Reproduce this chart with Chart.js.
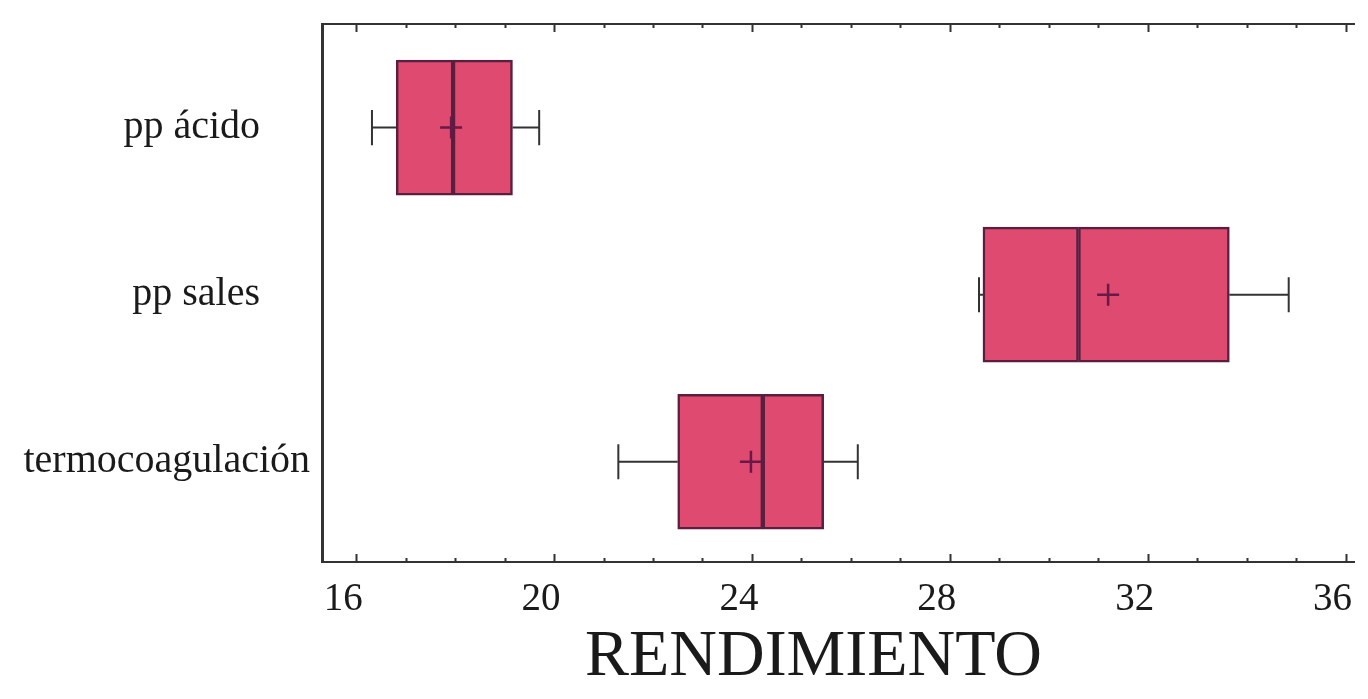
<!DOCTYPE html>
<html>
<head>
<meta charset="utf-8">
<script src="https://cdn.jsdelivr.net/npm/chart.js@4/dist/chart.umd.min.js"></script>
<style>
    html, body { margin: 0; padding: 0; background: #fff; overflow: hidden; }
    #wrap { width: 1368px; height: 699px; }
</style>
</head>
<body>
<div id="wrap"><canvas id="boxChart" width="1368" height="699"></canvas></div>
<script>
// Box plot data (RENDIMIENTO)
const categories = ['pp ácido', 'pp sales', 'termocoagulación'];
const whiskerMin = [16.32, 28.59, 21.30];
const q1Values = [16.81, 28.67, 22.50];
const medianValues = [17.96, 30.60, 24.22];
const q3Values = [19.16, 33.65, 25.45];
const whiskerMax = [19.70, 34.85, 26.14];
const meanValues = [17.92, 31.20, 23.98];
const xTickLabels = [16, 20, 24, 28, 32, 36];

const X_MIN = 15.31;
const X_MAX = 36.18;
const CAP_HALF = 0.105;   // whisker cap half height, in category units
const BOX_FILL = '#de4a70';
const BOX_EDGE = '#5a1e3e';
const INK = '#333333';

function buildWhiskers() {
    const pts = [];
    categories.forEach((c, i) => {
        pts.push({ x: whiskerMin[i], y: i }, { x: q1Values[i], y: i }, { x: null, y: null });
        pts.push({ x: q3Values[i], y: i }, { x: whiskerMax[i], y: i }, { x: null, y: null });
        pts.push({ x: whiskerMin[i], y: i - CAP_HALF }, { x: whiskerMin[i], y: i + CAP_HALF }, { x: null, y: null });
        pts.push({ x: whiskerMax[i], y: i - CAP_HALF }, { x: whiskerMax[i], y: i + CAP_HALF }, { x: null, y: null });
    });
    return pts;
}

// ticks point inward on bottom and top axes
const innerTicks = {
    id: 'innerTicks',
    afterDraw(chart) {
        const ctx = chart.ctx;
        const xs = chart.scales.x;
        const area = chart.chartArea;
        ctx.save();
        ctx.strokeStyle = INK;
        ctx.lineWidth = 2;
        xs.ticks.forEach(t => {
            if (!Number.isInteger(t.value)) return;
            const px = Math.round(xs.getPixelForValue(t.value)) + 0.5;
            const len = t.value % 4 === 0 ? 8 : 4;
            ctx.beginPath();
            ctx.moveTo(px, area.bottom);
            ctx.lineTo(px, area.bottom - len);
            ctx.moveTo(px, area.top);
            ctx.lineTo(px, area.top + len);
            ctx.stroke();
        });
        ctx.restore();
    }
};

function noPad(scale) {
    scale.paddingTop = 0;
    scale.paddingBottom = 0;
    scale.paddingLeft = 0;
    scale.paddingRight = 0;
}

document.addEventListener('DOMContentLoaded', function() {
    const ctx = document.getElementById('boxChart').getContext('2d');

    new Chart(ctx, {
        type: 'bar',
        data: {
            datasets: [
                {
                    type: 'scatter',
                    data: meanValues.map((m, i) => ({ x: m, y: i })),
                    pointStyle: 'cross',
                    pointRadius: 11,
                    pointBorderWidth: 2.5,
                    borderColor: '#6a1846',
                    order: 0
                },
                {
                    indexAxis: 'y',
                    data: categories.map((c, i) => ({ y: i, x: [q1Values[i], medianValues[i]] })),
                    backgroundColor: BOX_FILL,
                    borderColor: BOX_EDGE,
                    borderWidth: 2.5,
                    borderSkipped: false,
                    barThickness: 135,
                    grouped: false,
                    order: 1
                },
                {
                    indexAxis: 'y',
                    data: categories.map((c, i) => ({ y: i, x: [medianValues[i], q3Values[i]] })),
                    backgroundColor: BOX_FILL,
                    borderColor: BOX_EDGE,
                    borderWidth: 2.5,
                    borderSkipped: false,
                    barThickness: 135,
                    grouped: false,
                    order: 1
                },
                {
                    type: 'scatter',
                    data: buildWhiskers(),
                    showLine: true,
                    spanGaps: false,
                    pointRadius: 0,
                    borderColor: INK,
                    borderWidth: 2,
                    order: 2
                }
            ]
        },
        options: {
            responsive: false,
            animation: false,
            layout: { padding: 0 },
            plugins: {
                legend: { display: false },
                tooltip: { enabled: false }
            },
            scales: {
                x: {
                    type: 'linear',
                    position: 'bottom',
                    offset: false,
                    min: X_MIN,
                    max: X_MAX,
                    afterBuildTicks: scale => {
                        const list = [];
                        for (let v = Math.ceil(X_MIN); v <= X_MAX; v++) list.push({ value: v });
                        scale.ticks = list;
                    },
                    afterFit: scale => { scale.height = 137; noPad(scale); },
                    grid: { display: false, drawTicks: false, offset: false },
                    border: { display: true, color: INK, width: 2 },
                    ticks: {
                        padding: 14,
                        labelOffset: -13,
                        autoSkip: false,
                        maxRotation: 0,
                        color: '#1a1a1a',
                        font: { family: 'Liberation Serif', size: 39 },
                        callback: v => xTickLabels.includes(v) ? String(v) : ''
                    },
                    title: {
                        display: true,
                        // trailing spaces pull the centred title left, as in the original
                        text: 'RENDIMIENTO   ',
                        color: '#1a1a1a',
                        font: { family: 'Liberation Serif', size: 66 },
                        padding: { top: 0, bottom: 2 }
                    }
                },
                x2: {
                    type: 'linear',
                    position: 'top',
                    offset: false,
                    min: X_MIN,
                    max: X_MAX,
                    afterFit: scale => { scale.height = 24; noPad(scale); },
                    grid: { display: false, drawTicks: false, offset: false },
                    border: { display: true, color: INK, width: 2 },
                    ticks: { display: false }
                },
                y: {
                    type: 'linear',
                    reverse: true,
                    offset: false,
                    min: -0.62,
                    max: 2.6,
                    afterBuildTicks: scale => {
                        scale.ticks = categories.map((c, i) => ({ value: i }));
                    },
                    afterFit: scale => { scale.width = 322; noPad(scale); },
                    grid: { display: false, drawTicks: false, offset: false },
                    border: { display: true, color: INK, width: 3 },
                    ticks: {
                        padding: 12,
                        color: '#1a1a1a',
                        font: { family: 'Liberation Serif', size: 40 },
                        callback: v => {
                            const name = categories[v] || '';
                            // shorter labels sit a bit further from the axis in the original
                            return name.length < 10 ? name + '     ' : name;
                        }
                    }
                }
            }
        },
        plugins: [innerTicks]
    });
});
</script>
</body>
</html>
